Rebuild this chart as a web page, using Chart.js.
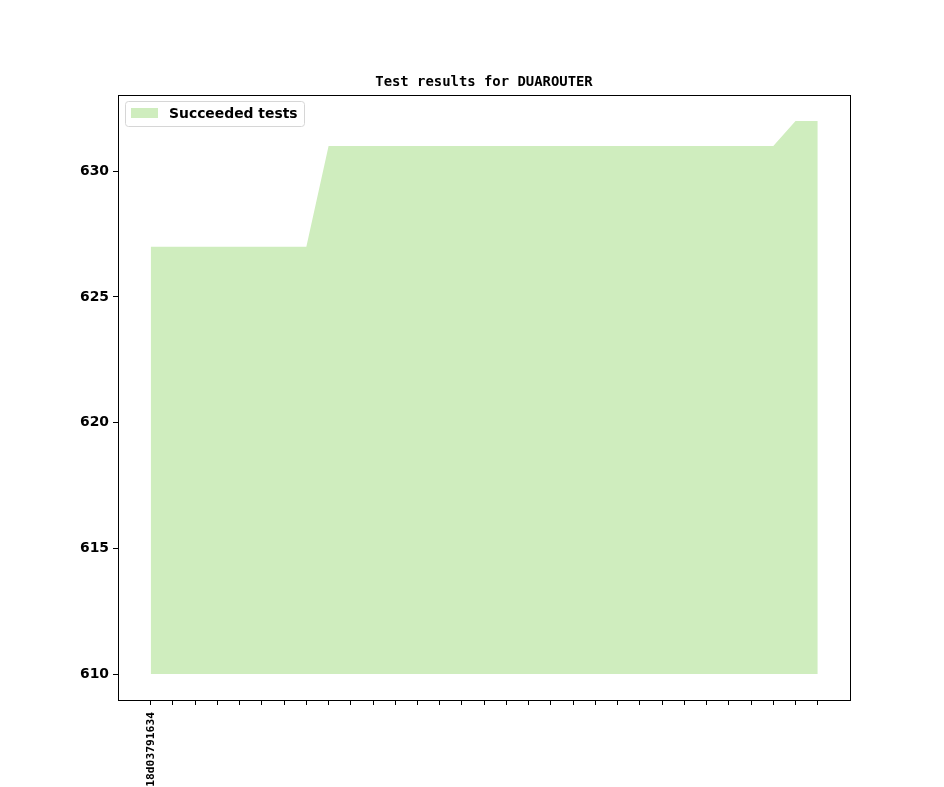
<!DOCTYPE html>
<html>
<head>
<meta charset="utf-8">
<script src="https://cdn.jsdelivr.net/npm/chart.js@4"></script>
<style>
  html, body { margin: 0; padding: 0; background: #fff; }
  #wrap { width: 944px; height: 787px; position: relative; }
</style>
</head>
<body>
<div id="wrap"><canvas id="myChart" width="944" height="787"></canvas></div>
<script>
// commit labels, only the first one is shown on the axis
const commits = ["18d03791634"].concat(new Array(30).fill(""));
const succeeded = [
  627, 627, 627, 627, 627, 627, 627, 627,
  631, 631, 631, 631, 631, 631, 631, 631, 631, 631, 631, 631,
  631, 631, 631, 631, 631, 631, 631, 631, 631,
  632, 632
];
const yTicks = [610, 615, 620, 625, 630];
const baseline = 610;

const chartTitle = "Test results for DUAROUTER";
const seriesName = "Succeeded tests";
const fillColor = "rgb(207,237,190)";

const boxPlugin = {
  id: "boxPlugin",
  afterDraw(chart) {
    const ctx = chart.ctx;
    const a = chart.chartArea;
    ctx.save();
    ctx.strokeStyle = "#000";
    ctx.lineWidth = 1;
    ctx.strokeRect(Math.round(a.left) + 0.5, Math.round(a.top) + 0.5,
      Math.round(a.right - a.left), Math.round(a.bottom - a.top));

    // title
    ctx.fillStyle = "#000";
    ctx.font = "bold 13.9px 'DejaVu Sans Mono'";
    ctx.textAlign = "center";
    ctx.textBaseline = "alphabetic";
    ctx.fillText(chartTitle, (a.left + a.right) / 2, 86);

    // legend inside the axes
    const lx = a.left + 7, ly = a.top + 6;
    ctx.beginPath();
    ctx.roundRect(lx + 0.5, ly + 0.5, 179, 25, 3);
    ctx.fillStyle = "rgba(255,255,255,0.8)";
    ctx.fill();
    ctx.strokeStyle = "#d6d6d6";
    ctx.stroke();
    ctx.fillStyle = fillColor;
    ctx.fillRect(lx + 6, ly + 7, 27, 10);
    ctx.fillStyle = "#000";
    ctx.font = "bold 13.9px 'DejaVu Sans'";
    ctx.textAlign = "left";
    ctx.fillText(seriesName, lx + 44, ly + 17);
    ctx.restore();
  }
};

new Chart(document.getElementById("myChart"), {
  type: "line",
  data: {
    datasets: [{
      label: seriesName,
      data: succeeded.map((v, i) => ({ x: i, y: v })),
      backgroundColor: fillColor,
      borderWidth: 0,
      pointRadius: 0,
      tension: 0,
      fill: { value: baseline }
    }]
  },
  options: {
    responsive: false,
    animation: false,
    layout: { padding: { top: 95, right: 94, left: 0, bottom: 0 } },
    plugins: {
      legend: { display: false },
      title: { display: false },
      tooltip: { enabled: false }
    },
    scales: {
      x: {
        type: "linear",
        min: -1.47,
        max: 31.45,
        afterBuildTicks: (s) => { s.ticks = commits.map((c, i) => ({ value: i })); },
        afterFit: (s) => { s.height = 87; },
        grid: { drawOnChartArea: false, drawTicks: true, tickLength: 5, color: "#000" },
        border: { color: "#000", width: 1 },
        ticks: {
          autoSkip: false,
          minRotation: 90,
          maxRotation: 90,
          padding: 7,
          color: "#000",
          font: { family: "'DejaVu Sans Mono'", size: 11.3, weight: "bold" },
          callback: (v) => commits[v] !== undefined ? commits[v] : ""
        }
      },
      y: {
        min: 608.97,
        max: 633.03,
        afterBuildTicks: (s) => { s.ticks = yTicks.map((v) => ({ value: v })); },
        afterFit: (s) => { s.width = 118; },
        grid: { drawOnChartArea: false, drawTicks: true, tickLength: 5, color: "#000" },
        border: { color: "#000", width: 1 },
        ticks: {
          padding: 4,
          color: "#000",
          font: { family: "'DejaVu Sans'", size: 13.9, weight: "bold" },
          callback: (v) => String(v)
        }
      }
    }
  },
  plugins: [boxPlugin]
});
</script>
</body>
</html>
